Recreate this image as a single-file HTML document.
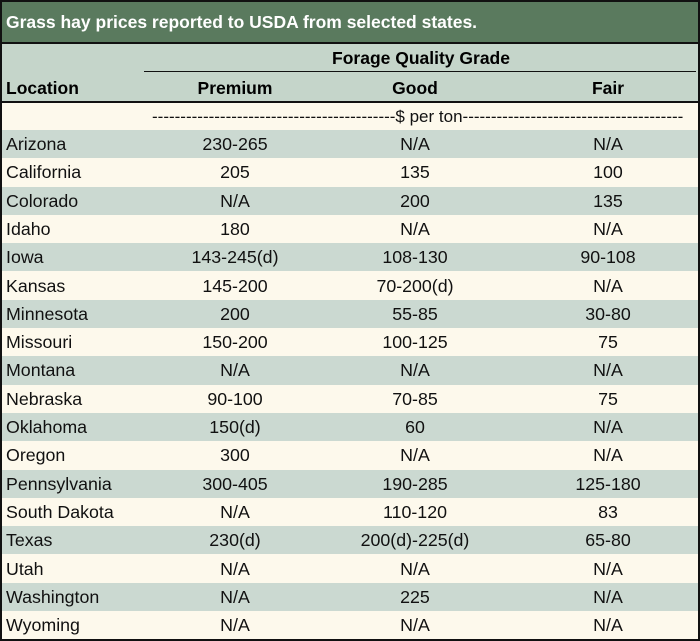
<!DOCTYPE html>
<html><head><style>
body{margin:0;width:700px;height:641px;overflow:hidden;background:#fff;font-family:"Liberation Sans",sans-serif;}
#w{position:absolute;left:0;top:0;width:696px;height:637px;border:2px solid #111;background:#fdf9ec;}
#t{position:absolute;left:0;top:0;width:696px;background:#5a7a5e;color:#fff;font-weight:bold;font-size:17.5px;line-height:40px;padding-left:4px;box-sizing:border-box;border-bottom:2px solid #111;height:42px}
#h{position:absolute;left:0;top:42px;width:696px;height:57px;background:#c5d5ca;border-bottom:2px solid #111;font-weight:bold;font-size:17.5px;}
.r{position:absolute;left:0;width:696px;height:28.3px;font-size:17.8px;line-height:28px;color:#111}
.s{background:#cbd9d1}
.c{position:absolute;text-align:center;width:200px}
.l{position:absolute;left:4px}
</style></head><body><div id="w">
<div id="t">Grass hay prices reported to USDA from selected states.</div>
<div id="h">
<div style="position:absolute;left:142px;width:554px;text-align:center;top:4px">Forage Quality Grade</div>
<div style="position:absolute;left:142px;width:552px;top:27px;border-top:1.5px solid #111"></div>
<div style="position:absolute;left:4px;top:34px">Location</div>
<div class="c" style="left:133px;top:34px">Premium</div>
<div class="c" style="left:313px;top:34px">Good</div>
<div class="c" style="left:506px;top:34px">Fair</div>
</div>
<div class="r" style="top:101px;white-space:nowrap;overflow:hidden;font-size:17px"><span style="position:absolute;left:150px">-------------------------------------------$ per ton---------------------------------------</span></div>
<div id="rows"></div>
</div>
<script>
var d=[["Arizona","230-265","N/A","N/A"],["California","205","135","100"],["Colorado","N/A","200","135"],["Idaho","180","N/A","N/A"],["Iowa","143-245(d)","108-130","90-108"],["Kansas","145-200","70-200(d)","N/A"],["Minnesota","200","55-85","30-80"],["Missouri","150-200","100-125","75"],["Montana","N/A","N/A","N/A"],["Nebraska","90-100","70-85","75"],["Oklahoma","150(d)","60","N/A"],["Oregon","300","N/A","N/A"],["Pennsylvania","300-405","190-285","125-180"],["South Dakota","N/A","110-120","83"],["Texas","230(d)","200(d)-225(d)","65-80"],["Utah","N/A","N/A","N/A"],["Washington","N/A","225","N/A"],["Wyoming","N/A","N/A","N/A"]];
var h="";d.forEach(function(r,i){h+='<div class="r'+(i%2?'':' s')+'" style="top:'+(128+i*28.3)+'px"><span class="l">'+r[0]+'</span><span class="c" style="left:133px">'+r[1]+'</span><span class="c" style="left:313px">'+r[2]+'</span><span class="c" style="left:506px">'+r[3]+'</span></div>';});
document.getElementById("rows").outerHTML=h;
</script>
</body></html>
